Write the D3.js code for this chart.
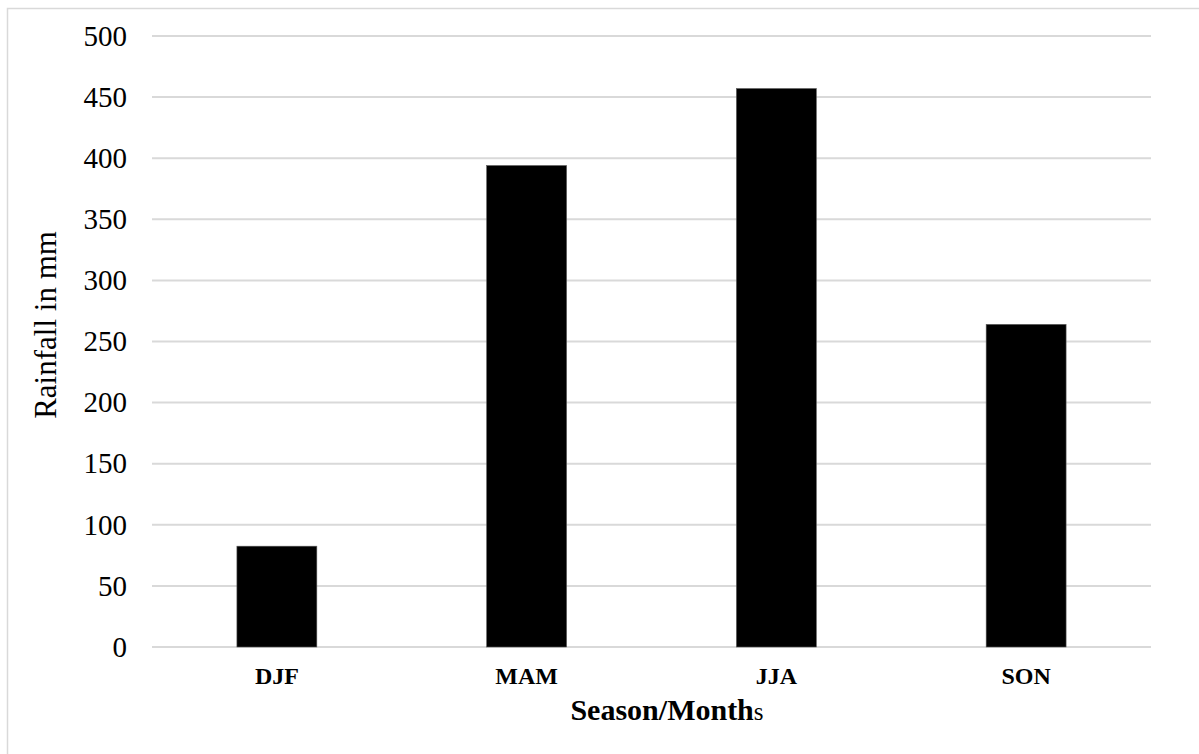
<!DOCTYPE html>
<html>
<head>
<meta charset="utf-8">
<script src="https://cdn.jsdelivr.net/npm/d3@7"></script>
<style>
  html, body { margin: 0; padding: 0; background: #fff; }
  svg { display: block; }
  svg text { font-family: "Liberation Serif", "Times New Roman", serif !important; fill: #000; }
</style>
</head>
<body>
<svg id="chart" width="1199" height="754"></svg>
<script>
// Seasonal rainfall totals (mm)
const seasons = ["DJF", "MAM", "JJA", "SON"];
const rainfall = [82.5, 394, 457, 264];
const yTicks = [0, 50, 100, 150, 200, 250, 300, 350, 400, 450, 500];

const svg = d3.select("#chart");
const W = 1199, H = 754;
const margin = { left: 152, right: 48, top: 36, bottom: 107 };
const plotW = W - margin.left - margin.right;
const plotH = H - margin.top - margin.bottom;
const serif = '"Liberation Serif", "Times New Roman", serif';

// Chart frame
svg.append("rect")
  .attr("x", 7.5).attr("y", 8.5)
  .attr("width", W + 10).attr("height", H + 10)
  .attr("fill", "none")
  .attr("stroke", "#d9d9d9")
  .attr("stroke-width", 1.5);

const g = svg.append("g").attr("transform", `translate(${margin.left},${margin.top})`);

const x = d3.scaleBand().domain(seasons).range([0, plotW]).paddingInner(0.68).paddingOuter(0.34);
const y = d3.scaleLinear().domain([0, 500]).range([plotH, 0]);

// Horizontal gridlines
g.append("g")
  .selectAll("line")
  .data(yTicks)
  .join("line")
  .attr("x1", 0).attr("x2", plotW)
  .attr("y1", d => y(d)).attr("y2", d => y(d))
  .attr("stroke", "#d9d9d9")
  .attr("stroke-width", 2);

// Y axis labels
const yAxis = d3.axisLeft(y).tickValues(yTicks).tickSize(0).tickPadding(25);
const yg = g.append("g").call(yAxis).attr("font-family", null).attr("font-size", null);
yg.select(".domain").remove();
yg.selectAll("text")
  .style("font-family", serif)
  .style("font-size", "29px")
  .attr("fill", "#000");

// Bars
g.append("g")
  .selectAll("rect")
  .data(seasons)
  .join("rect")
  .attr("x", d => x(d))
  .attr("width", x.bandwidth())
  .attr("y", (d, i) => y(rainfall[i]))
  .attr("height", (d, i) => y(0) - y(rainfall[i]))
  .attr("fill", "#000")
  .attr("stroke", "#595959")
  .attr("stroke-width", 0.6);

// X axis labels
const xAxis = d3.axisBottom(x).tickSize(0).tickPadding(20);
const xg = g.append("g").attr("transform", `translate(0,${plotH})`).call(xAxis)
  .attr("font-family", null).attr("font-size", null);
xg.select(".domain").remove();
xg.selectAll("text")
  .style("font-family", serif)
  .style("font-size", "24px")
  .style("font-weight", "bold")
  .attr("fill", "#000");

// Y axis title
svg.append("text")
  .attr("transform", "translate(56,325) rotate(-90)")
  .attr("text-anchor", "middle")
  .style("font-size", "31px")
  .text("Rainfall in mm");

// X axis title
const xt = svg.append("text")
  .attr("x", 667).attr("y", 720)
  .attr("text-anchor", "middle");
xt.append("tspan").style("font-size", "30px").style("font-weight", "bold").text("Season/Month");
xt.append("tspan").style("font-size", "25px").style("font-weight", "normal").text("s");
</script>
</body>
</html>
